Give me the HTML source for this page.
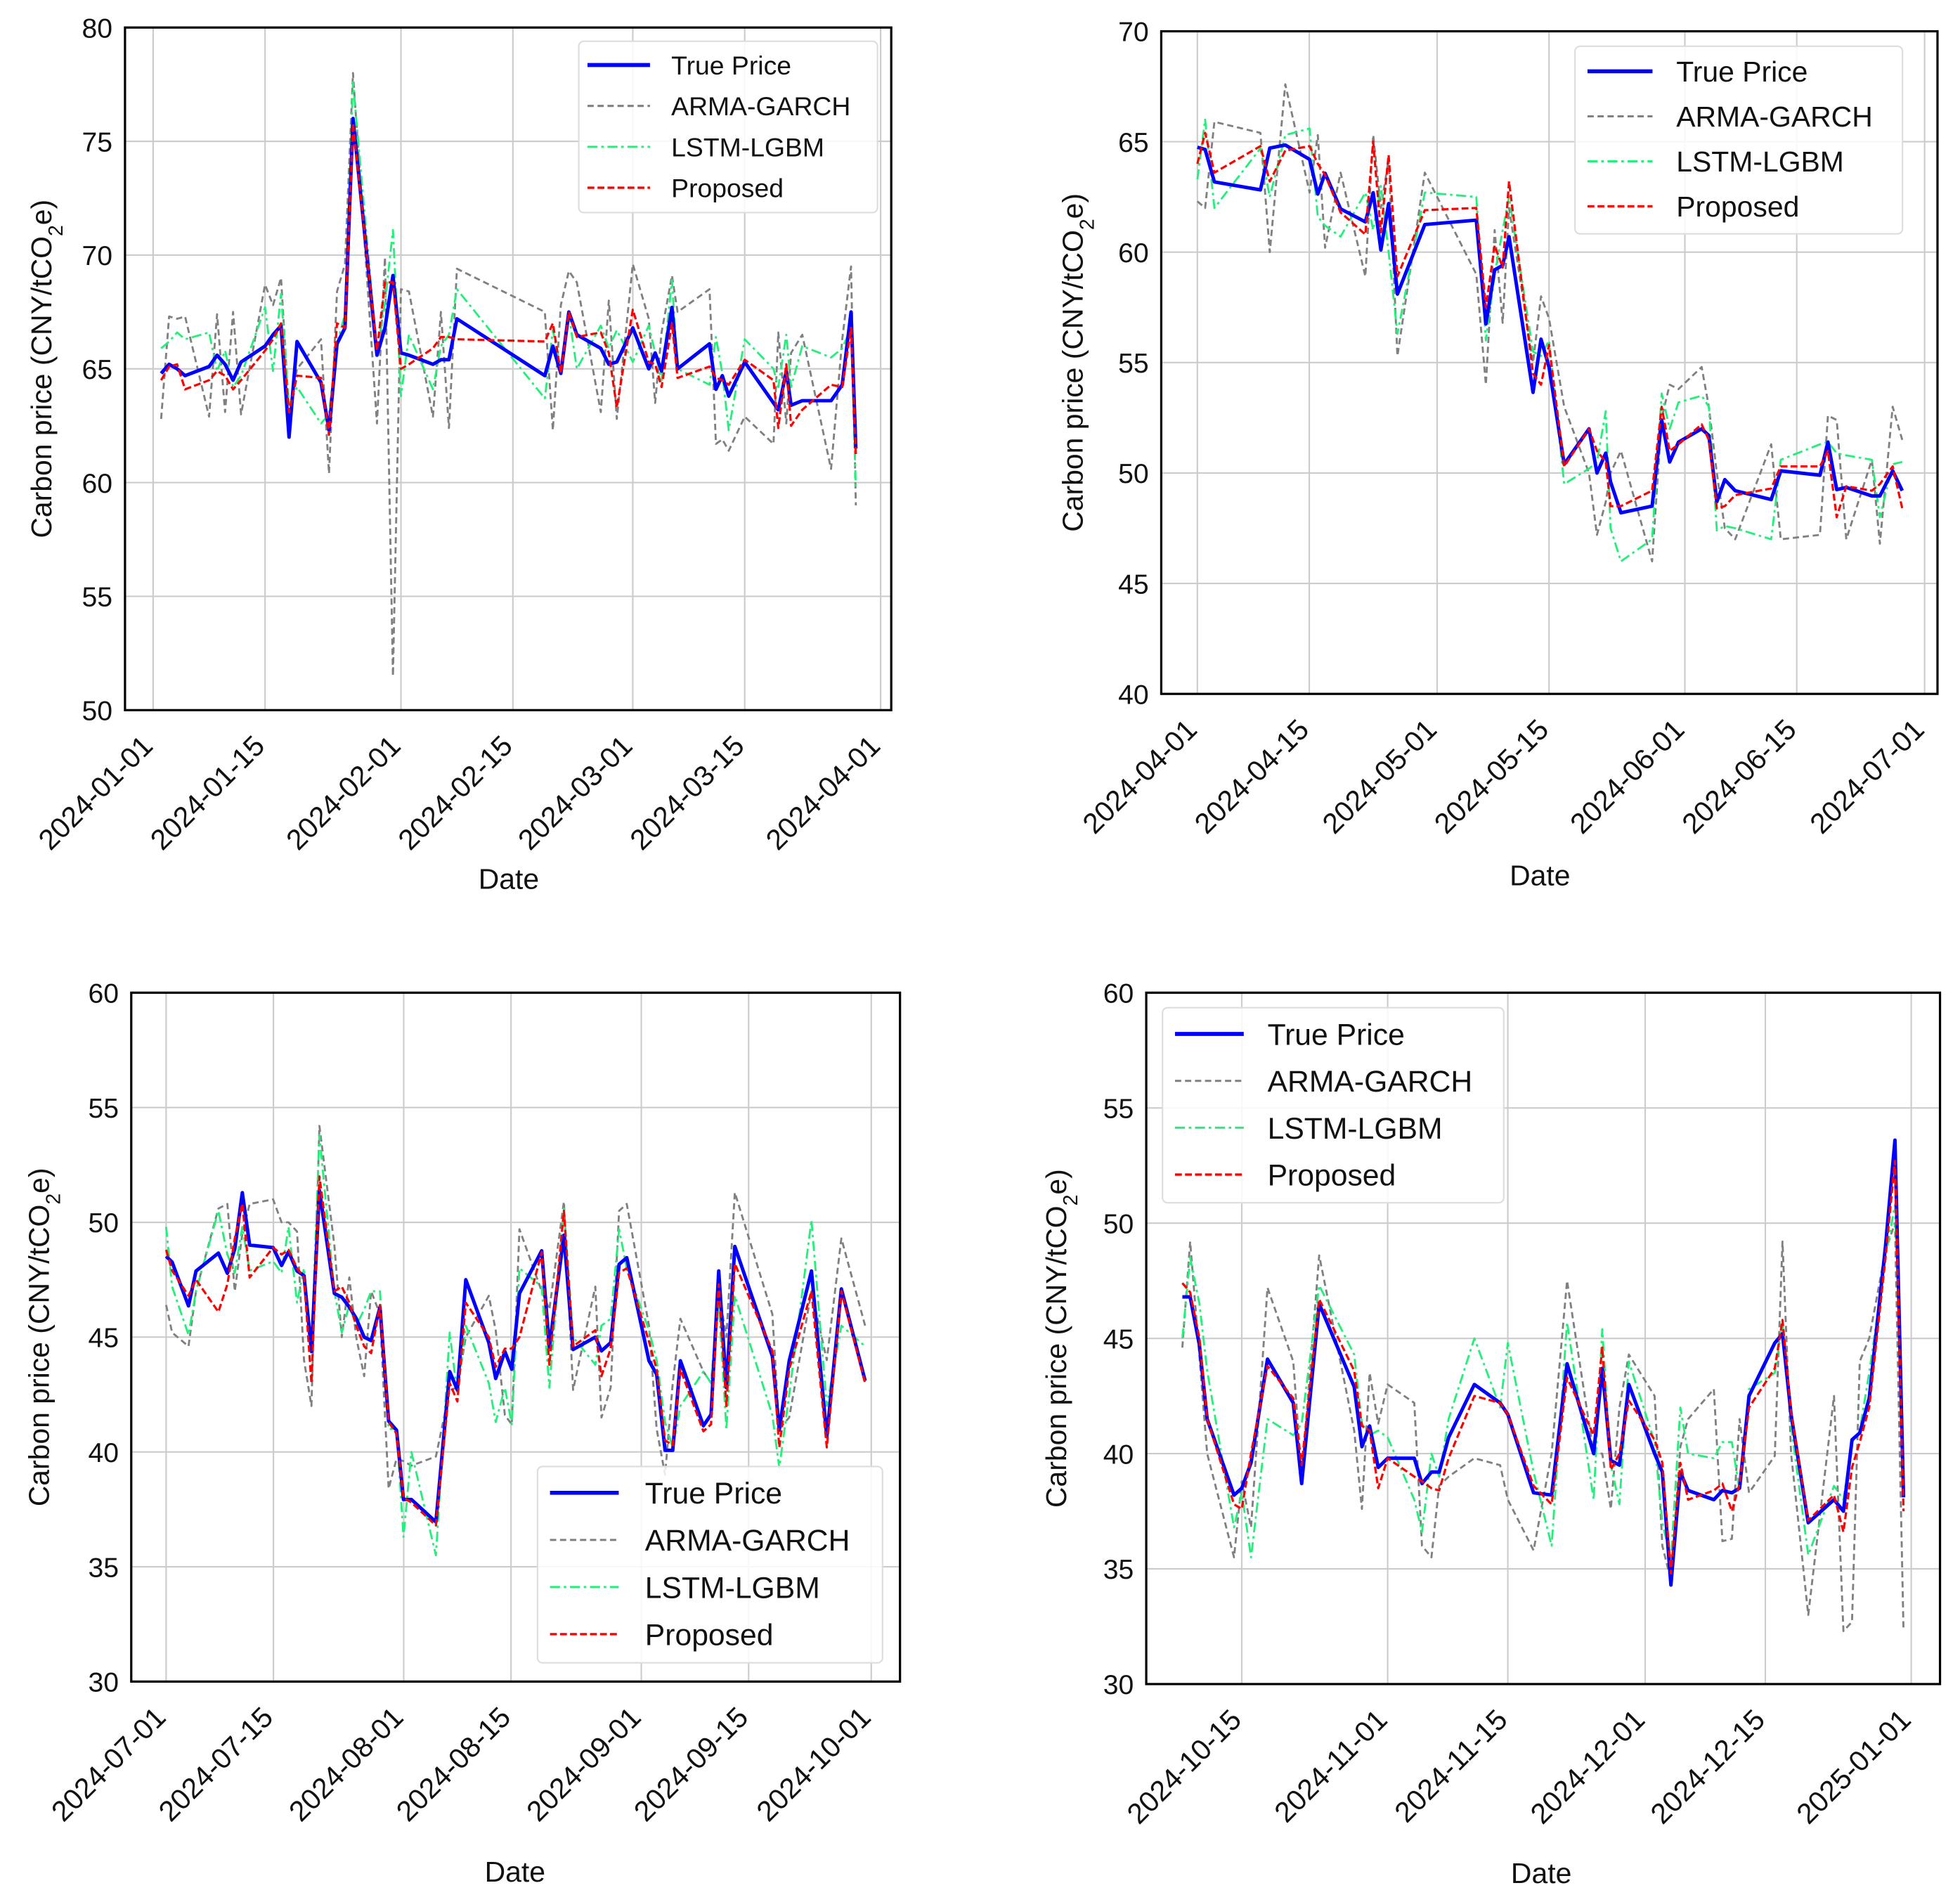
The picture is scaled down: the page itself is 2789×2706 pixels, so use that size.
<!DOCTYPE html>
<html><head><meta charset="utf-8">
<style>
html,body{margin:0;padding:0;background:#fff;}
svg{display:block;font-family:"Liberation Sans",Arial,sans-serif;}
</style></head>
<body>
<svg id="fig" xmlns="http://www.w3.org/2000/svg" width="2789" height="2706" viewBox="0 0 1568 1521.3"></svg>
<script>
// ---------- Panel 1 (2024 Q1), days from 2024-01-01 ----------
const p1Days = [1,2,3,4,7,8,9,10,11,14,15,16,17,18,21,22,23,24,25,28,29,30,31,32,35,36,37,38,49,50,51,52,53,56,57,58,60,62,62.8,63.6,64.9,65.6,69.6,70.4,71.2,72,74,77.6,78.2,79.2,79.8,81.2,84.8,86.2,87.3,87.9];
const p1True = [64.8,65.2,65.0,64.7,65.1,65.6,65.2,64.5,65.3,66.0,66.5,66.9,62.0,66.2,64.4,62.3,66.1,66.8,76.0,65.6,66.8,69.1,65.7,65.6,65.2,65.4,65.4,67.2,64.7,66.0,64.8,67.5,66.5,65.9,65.2,65.3,66.8,65.0,65.7,64.9,67.7,65.0,66.1,64.1,64.7,63.8,65.3,63.5,63.2,64.9,63.4,63.6,63.6,64.3,67.5,61.5];
const p1Arma = [62.8,67.3,67.2,67.3,62.9,67.4,63.1,67.5,63.0,68.7,67.8,69.0,63.1,65.0,66.3,60.4,68.4,69.6,78.0,62.6,69.9,51.5,68.5,68.4,62.9,67.5,62.4,69.4,67.5,62.3,67.8,69.3,68.8,63.1,68.0,62.8,69.6,67.2,63.5,66.6,69.1,67.5,68.5,61.7,61.9,61.4,62.9,61.7,66.6,62.6,65.7,66.5,60.6,66.3,69.5,59.0];
const p1Lstm = [65.9,66.2,66.6,66.3,66.6,64.9,65.8,64.2,64.7,67.7,64.9,68.3,63.4,64.2,62.6,63.0,66.1,67.4,77.6,65.7,67.9,71.1,63.8,66.5,64.1,66.0,66.5,68.5,63.7,66.7,64.9,67.4,65.0,66.9,65.9,66.7,65.3,66.9,65.7,64.5,68.9,65.0,64.3,66.4,64.8,62.3,66.3,65.0,64.2,66.5,64.2,66.0,65.5,65.9,66.8,59.8];
const p1Prop = [64.5,65.1,65.2,64.1,64.5,64.9,64.7,64.1,64.5,65.8,66.3,67.0,63.1,64.7,64.6,62.1,67.0,66.8,75.8,65.8,68.8,68.8,65.0,65.2,65.9,66.4,66.4,66.3,66.2,67.0,64.8,67.5,66.4,66.6,65.7,63.3,67.6,65.3,65.2,64.2,67.0,64.6,65.1,64.6,64.5,64.3,65.4,64.5,62.4,65.2,62.5,63.2,64.3,64.2,66.8,61.2];
const p1XTicks = [0,14,31,45,60,74,91];
const p1XLabels = ["2024-01-01","2024-01-15","2024-02-01","2024-02-15","2024-03-01","2024-03-15","2024-04-01"];
const p1YTicks = [50,55,60,65,70,75,80];

// ---------- Panel 2 (2024 Q2), days from 2024-04-01 ----------
const p2Days = [0,0.97,2.13,7.89,9.06,11.0,14.04,15.07,15.98,17.92,21.02,22.0,22.96,23.93,25.03,28.46,34.9,36.1,37.2,38.2,39.0,42.0,43.0,44.0,45.9,49.0,50.0,51.1,51.7,53.0,56.9,58.1,59.1,60.2,63.1,64.0,65.0,66.0,67.3,71.8,73.0,77.9,78.9,80.0,81.2,84.4,85.4,87.0,88.2];
const p2True = [64.75,64.65,63.18,62.82,64.71,64.85,64.2,62.63,63.57,61.96,61.37,62.69,60.1,62.2,58.1,61.25,61.45,56.75,59.2,59.4,60.7,53.65,56.06,54.8,50.4,52.0,50.0,50.9,49.6,48.2,48.5,52.4,50.5,51.4,52.0,51.7,48.7,49.7,49.2,48.8,50.1,49.9,51.4,49.25,49.35,48.96,48.96,50.1,49.2];
const p2Arma = [62.3,62.0,65.9,65.4,60.0,67.6,62.7,65.3,60.2,63.6,58.9,65.3,62.0,64.2,55.3,63.6,59.0,54.0,61.0,56.8,62.0,55.0,58.0,57.0,53.0,50.0,47.2,48.7,50.0,51.0,46.0,52.5,54.0,53.8,54.8,53.0,50.0,47.5,47.0,51.3,47.0,47.2,52.6,52.4,47.0,50.6,46.8,53.0,51.5];
const p2Lstm = [63.3,66.0,62.0,64.7,62.5,65.3,65.6,61.6,61.2,60.7,62.7,61.0,63.0,60.0,56.3,62.7,62.5,56.0,59.0,61.0,62.5,55.5,55.3,56.0,49.5,50.2,50.5,52.8,47.5,46.0,47.0,53.6,52.0,53.2,53.5,53.0,47.4,47.6,47.5,47.0,50.6,51.3,51.4,50.9,50.8,50.6,48.0,50.4,50.5];
const p2Prop = [64.0,65.4,63.6,64.8,63.2,64.6,64.8,64.0,63.5,61.8,60.8,65.0,60.9,64.4,58.9,61.9,62.0,57.5,60.3,59.3,63.2,54.5,54.0,55.8,50.3,52.0,51.0,50.5,48.5,48.5,49.2,53.0,51.0,51.3,52.2,51.5,48.4,48.5,49.0,49.3,50.3,50.3,51.0,48.0,49.4,49.2,49.5,50.3,48.4];
const p2XTicks = [0,14,30,44,61,75,91];
const p2XLabels = ["2024-04-01","2024-04-15","2024-05-01","2024-05-15","2024-06-01","2024-06-15","2024-07-01"];
const p2YTicks = [40,45,50,55,60,65,70];

// ---------- Panel 3 (2024 Q3), days from 2024-07-01 ----------
const p3Days = [0,0.78,2.92,3.9,6.82,7.99,8.96,9.94,10.9,13.96,15.06,15.97,17.08,17.99,18.96,20.0,21.95,22.92,23.9,24.8,25.84,26.75,27.9,29.03,30.06,30.97,32.0,35.2,37.0,38.0,39.1,42.1,43.0,44.2,45.1,46.1,49.0,50.0,51.9,53.1,56.0,56.8,58.0,59.1,60.1,63.0,64.0,65.1,66.1,67.1,70.1,71.1,72.1,73.1,74.2,79.1,80.0,81.3,84.2,86.2,88.1,91.2];
const p3True = [48.52,48.27,46.36,47.88,48.66,47.78,48.85,51.29,49.01,48.9,48.12,48.72,47.88,47.68,44.37,51.39,46.9,46.74,46.31,45.82,45.0,44.85,46.3,41.34,40.95,37.93,37.93,36.95,43.5,42.7,47.5,44.76,43.2,44.37,43.6,46.9,48.76,44.56,49.44,44.46,45.0,44.4,44.76,48.17,48.46,43.97,43.38,40.07,40.07,43.97,41.14,41.63,47.88,42.8,48.95,44.17,40.95,43.97,47.88,40.66,47.1,43.1];
const p3Arma = [46.4,45.2,44.6,47.0,50.6,50.8,47.0,49.5,50.8,51.0,50.0,50.0,49.6,44.0,42.0,54.2,49.0,45.0,47.6,45.0,43.3,47.0,46.0,38.4,39.7,39.6,39.4,39.8,42.7,42.8,45.0,46.8,45.3,41.6,41.2,49.7,47.0,46.2,50.9,42.7,47.2,41.5,42.8,50.5,50.8,45.5,41.0,39.0,43.0,45.8,43.5,43.0,47.0,45.0,51.3,46.0,41.0,41.5,47.0,44.0,49.3,45.5];
const p3Lstm = [49.8,47.2,45.1,47.0,50.5,48.6,47.8,49.8,47.9,48.3,47.8,49.8,46.5,48.0,44.5,53.8,47.0,45.2,46.4,45.5,46.2,47.0,47.0,41.0,41.0,36.3,40.0,35.5,45.2,42.5,45.5,43.0,41.3,42.8,41.2,48.0,47.2,42.8,50.6,45.0,43.8,45.5,45.8,49.7,48.0,45.3,44.0,41.3,40.2,42.0,43.5,43.0,46.5,41.0,46.8,41.6,39.3,42.5,50.1,42.0,45.5,44.6];
const p3Prop = [48.8,47.9,46.8,47.5,46.1,47.3,49.3,50.8,47.6,48.9,48.6,48.8,48.0,47.6,43.0,52.0,47.0,47.2,46.5,45.5,44.6,44.3,46.4,41.3,40.8,38.0,37.8,36.8,43.0,42.2,46.5,45.0,43.7,44.5,44.5,45.0,48.7,43.8,50.5,44.6,45.3,43.3,44.5,47.8,48.0,44.8,43.6,40.5,40.3,43.6,40.9,41.2,47.3,42.0,48.2,44.4,40.2,43.6,47.0,40.2,47.0,43.0];
const p3XTicks = [0,14,31,45,62,76,92];
const p3XLabels = ["2024-07-01","2024-07-15","2024-08-01","2024-08-15","2024-09-01","2024-09-15","2024-10-01"];
const p3YTicks = [30,35,40,45,50,55,60];

// ---------- Panel 4 (2024 Q4), days from 2024-10-15 ----------
const p4Days = [-6.92,-6.01,-4.93,-4.03,-0.9,0,1.08,3.0,6.0,6.98,9.02,13.1,14.0,14.9,15.9,17.0,20.1,21.0,22.1,23.0,24.1,27.1,30.1,31.0,34.0,36.1,37.9,41.0,42.0,43.0,44.0,45.1,48.1,49.0,50.0,51.1,52.0,55.0,56.0,57.1,58.0,59.1,62.1,63.0,64.0,66.0,69.0,70.1,71.1,72.0,73.1,75.0,76.1,77.1];
const p4True = [46.8,46.8,44.7,41.5,38.2,38.5,39.6,44.1,42.2,38.7,46.5,42.9,40.3,41.2,39.4,39.8,39.8,38.7,39.2,39.2,40.7,43.0,42.2,41.7,38.3,38.2,43.9,40.0,43.7,39.7,39.5,43.0,40.0,39.2,34.3,39.2,38.4,38.0,38.4,38.3,38.5,42.5,44.8,45.2,41.7,37.0,38.0,37.5,40.6,40.9,42.4,49.0,53.6,38.1];
const p4Arma = [44.6,49.2,44.2,40.0,35.5,38.8,36.8,47.2,44.0,39.0,48.6,41.0,37.6,43.5,41.3,43.0,42.2,36.0,35.5,38.6,39.0,39.8,39.5,38.0,35.8,40.0,47.5,40.0,40.0,37.6,42.0,44.3,42.5,36.0,34.5,40.3,41.5,42.8,36.2,36.3,41.5,38.3,39.9,49.2,40.0,33.0,42.5,32.3,32.7,44.0,45.0,48.8,50.0,32.3];
const p4Lstm = [45.0,48.5,46.5,43.6,36.8,38.3,35.5,41.5,40.8,41.3,47.3,44.3,41.3,40.8,41.0,40.7,38.0,36.6,40.0,39.0,41.5,45.0,42.0,44.8,39.2,36.0,45.7,38.0,45.4,39.5,37.8,44.0,40.5,37.0,35.4,42.0,40.0,39.8,40.5,40.5,38.4,42.8,43.5,45.7,41.2,35.6,38.6,38.0,40.5,41.0,43.5,48.5,50.8,39.5];
const p4Prop = [47.4,47.0,45.0,41.5,37.8,37.6,40.0,43.8,42.4,39.5,46.7,43.6,41.2,41.0,38.5,39.8,39.0,38.8,38.5,38.4,39.8,42.5,42.2,41.7,38.6,37.8,43.3,40.8,44.6,39.3,40.0,42.3,40.6,39.6,34.8,39.6,38.0,38.4,38.7,37.5,38.7,42.0,43.7,45.8,41.8,37.1,38.2,36.6,39.4,40.5,42.0,48.5,52.7,37.5];
const p4XTicks = [0,17,31,47,61,78];
const p4XLabels = ["2024-10-15","2024-11-01","2024-11-15","2024-12-01","2024-12-15","2025-01-01"];
const p4YTicks = [30,35,40,45,50,55,60];

const legendNames = ["True Price","ARMA-GARCH","LSTM-LGBM","Proposed"];

const NS = "http://www.w3.org/2000/svg";
const svg = document.getElementById("fig");
function mk(tag, attrs, parent){
  const e = document.createElementNS(NS, tag);
  for (const k in attrs) e.setAttribute(k, attrs[k]);
  (parent||svg).appendChild(e);
  return e;
}
const styles = [
  {stroke:"#0000ff", w:2.8, dash:""},
  {stroke:"#808080", w:1.6, dash:"5,3"},
  {stroke:"#22f07a", w:1.6, dash:"8,3,2,3"},
  {stroke:"#ff0000", w:1.8, dash:"5.5,2.5"}
];
const seriesNames = ["true-price-line","arma-garch-line","lstm-lgbm-line","proposed-line"];

function drawPanel(cfg){
  const g = mk("g", {});
  
  
  const {L,R,T,B,ymin,ymax,x0,x0px,x1,x1px} = cfg;
  const sx = d => x0px + (d - x0) * (x1px - x0px) / (x1 - x0);
  const sy = v => B - (v - ymin) * (B - T) / (ymax - ymin);
  cfg.yTicks.forEach(v => {
    const ln = mk("line", {x1:L, x2:R, y1:sy(v), y2:sy(v), stroke:"#cccccc", "stroke-width":1.2}, g);
    
    
    const t = mk("text", {x:L-10, y:sy(v)+8, "text-anchor":"end", "font-size":22, fill:"#111"}, g);
    t.textContent = v;
    
    
  });
  cfg.xTicks.forEach((d,i) => {
    const x = sx(d);
    const ln = mk("line", {x1:x, x2:x, y1:T, y2:B, stroke:"#cccccc", "stroke-width":1.2}, g);
    
    
    const ax = x + 1, ay = B + 30;
    const t = mk("text", {x:ax, y:ay, "text-anchor":"end", "font-size":23, fill:"#111", transform:`rotate(-45 ${ax} ${ay})`}, g);
    t.textContent = cfg.xLabels[i];
    
    
  });
  const cp = mk("clipPath", {id:"clip"+cfg.name}, g);
  mk("rect", {x:L, y:T, width:R-L, height:B-T}, cp);
  const order = [1,2,0,3];
  const data = [cfg.t, cfg.a, cfg.l, cfg.p];
  order.forEach(si => {
    const pts = cfg.days.map((d,i) => sx(d).toFixed(2)+","+sy(data[si][i]).toFixed(2)).join(" ");
    const pl = mk("polyline", {points:pts, fill:"none", stroke:styles[si].stroke, "stroke-width":styles[si].w, "stroke-dasharray":styles[si].dash, "stroke-linejoin":"round", "clip-path":`url(#clip${cfg.name})`}, g);
    
    
  });
  const fr = mk("rect", {x:L, y:T, width:R-L, height:B-T, fill:"none", stroke:"#000", "stroke-width":1.8}, g);
  
  
  const xl = mk("text", {x:cfg.dateX, y:cfg.dateY, "text-anchor":"middle", "font-size":23, fill:"#111"}, g);
  xl.textContent = "Date";
  
  
  const yl = mk("text", {x:cfg.ylX, y:(T+B)/2, "text-anchor":"middle", "font-size":23, fill:"#111", transform:`rotate(-90 ${cfg.ylX} ${(T+B)/2})`}, g);
  
  
  const s1 = mk("tspan", {}, yl); s1.textContent = "Carbon price (CNY/tCO";
  const s2 = mk("tspan", {"baseline-shift":"sub", "font-size":16}, yl); s2.textContent = "2";
  const s3 = mk("tspan", {}, yl); s3.textContent = "e)";
  const lg = cfg.leg;
  const lgG = mk("g", {}, g);
  
  
  mk("rect", {x:lg.x, y:lg.y, width:lg.w, height:lg.h, rx:4, fill:"#fff", "fill-opacity":0.85, stroke:"#dddddd", "stroke-width":1.2}, lgG);
  legendNames.forEach((n,i) => {
    const y = lg.y + lg.first + i*lg.step;
    const ln = mk("line", {x1:lg.x+lg.l0, x2:lg.x+lg.l1, y1:y, y2:y, stroke:styles[i].stroke, "stroke-width":styles[i].w+(i===0?0.4:0.1), "stroke-dasharray":styles[i].dash}, lgG);
    
    
    const t = mk("text", {x:lg.x+lg.tx, y:y+lg.fs*0.36, "font-size":lg.fs, fill:"#111"}, lgG);
    t.textContent = n;
    
    
  });
}

drawPanel({name:"panel-q1", L:100,R:713,T:22,B:568, ymin:50,ymax:80, x0:0,x0px:122.5,x1:91,x1px:704.5,
  days:p1Days,t:p1True,a:p1Arma,l:p1Lstm,p:p1Prop,xTicks:p1XTicks,xLabels:p1XLabels,yTicks:p1YTicks,
  dateX:407,dateY:711,ylX:41, leg:{x:463,y:33,w:239,h:137,first:19,step:32.7,l0:7,l1:57,tx:74,fs:21}});
drawPanel({name:"panel-q2", L:929,R:1550,T:25,B:555, ymin:40,ymax:70, x0:0,x0px:957.9,x1:91,x1px:1539.7,
  days:p2Days,t:p2True,a:p2Arma,l:p2Lstm,p:p2Prop,xTicks:p2XTicks,xLabels:p2XLabels,yTicks:p2YTicks,
  dateX:1232,dateY:708,ylX:866, leg:{x:1260,y:37,w:262,h:150,first:20,step:36,l0:10,l1:62,tx:81,fs:23}});
drawPanel({name:"panel-q3", L:105,R:720,T:794,B:1345, ymin:30,ymax:60, x0:0,x0px:132.9,x1:92,x1px:697,
  days:p3Days,t:p3True,a:p3Arma,l:p3Lstm,p:p3Prop,xTicks:p3XTicks,xLabels:p3XLabels,yTicks:p3YTicks,
  dateX:412,dateY:1505,ylX:39, leg:{x:430,y:1173,w:276,h:157,first:21,step:37.7,l0:10,l1:65,tx:86,fs:24}});
drawPanel({name:"panel-q4", L:917,R:1552,T:794,B:1347, ymin:30,ymax:60, x0:0,x0px:993.4,x1:78,x1px:1529,
  days:p4Days,t:p4True,a:p4Arma,l:p4Lstm,p:p4Prop,xTicks:p4XTicks,xLabels:p4XLabels,yTicks:p4YTicks,
  dateX:1233,dateY:1506,ylX:853, leg:{x:930,y:806,w:273,h:156,first:21,step:37.5,l0:10,l1:65,tx:84,fs:24}});
</script>
</body></html>
